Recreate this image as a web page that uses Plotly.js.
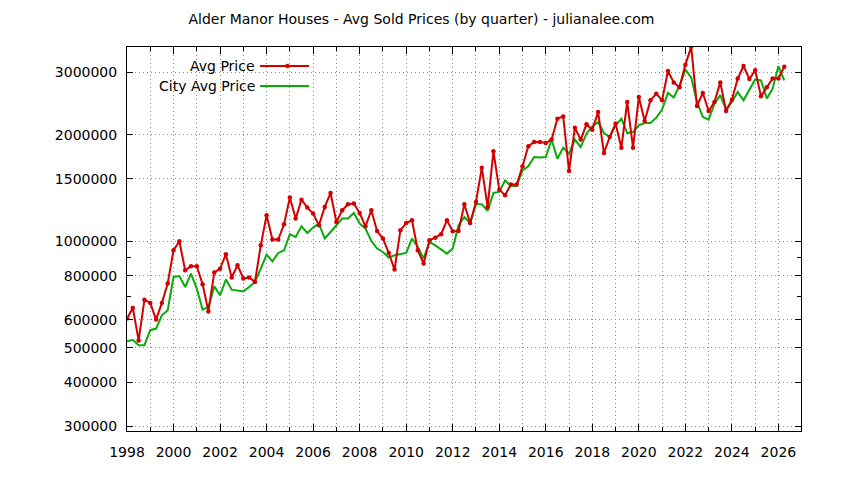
<!DOCTYPE html>
<html>
<head>
<meta charset="utf-8">
<script src="https://cdn.plot.ly/plotly-3.0.1.min.js"></script>
<style>html,body{margin:0;padding:0;background:#fff;}#chart{width:844px;height:480px;}</style>
</head>
<body>
<div id="chart"></div>
<script>
// Years covered (quarterly data, Q1..Q4 per year)
const years = [1998,1999,2000,2001,2002,2003,2004,2005,2006,2007,2008,2009,2010,2011,2012,2013,2014,2015,2016,2017,2018,2019,2020,2021,2022,2023,2024,2025,2026];

// Alder Manor average sold price by quarter
const avgPrice = [
  605000, 648000, 525000, 684000,
  670000, 601000, 670000, 760000,
  943000, 1000000, 828000, 850000,
  850000, 756000, 634000, 816000,
  837000, 919000, 790000, 856000,
  785000, 790000, 768000, 974000,
  1184000, 1011000, 1011000, 1117000,
  1329000, 1159000, 1311000, 1245000,
  1197000, 1110000, 1250000, 1369000,
  1134000, 1223000, 1272000, 1278000,
  1202000, 1102000, 1223000, 1069000,
  1018000, 927000, 832000, 1074000,
  1126000, 1146000, 943000, 865000,
  1007000, 1024000, 1047000, 1146000,
  1067000, 1070000, 1272000, 1126000,
  1291000, 1614000, 1250000, 1795000,
  1399000, 1349000, 1446000, 1446000,
  1628000, 1855000, 1906000, 1906000,
  1895000, 1937000, 2218000, 2252000,
  1579000, 2092000, 1937000, 2139000,
  2066000, 2316000, 1775000, 1970000,
  2149000, 1838000, 2473000, 1838000,
  2555000, 2186000, 2500000, 2610000,
  2500000, 3025000, 2809000, 2720000,
  3153000, 3540000, 2409000, 2622000,
  2333000, 2473000, 2809000, 2333000,
  2511000, 2880000, 3125000, 2870000,
  3040000, 2567000, 2720000, 2880000,
  2880000, 3111000
];

// City average price by quarter
const cityAvgPrice = [
  522000, 527000, 509000, 509000,
  561000, 567000, 618000, 639000,
  793000, 798000, 743000, 810000,
  735000, 641000, 652000, 746000,
  704000, 780000, 730000, 727000,
  722000, 743000, 768000, 837000,
  917000, 878000, 927000, 943000,
  1047000, 1028000, 1102000, 1055000,
  1093000, 1122000, 1018000, 1062000,
  1110000, 1159000, 1159000, 1202000,
  1122000, 1086000, 1002000, 954000,
  933000, 899000, 913000, 919000,
  927000, 1018000, 964000, 894000,
  995000, 974000, 947000, 923000,
  954000, 1110000, 1171000, 1126000,
  1272000, 1272000, 1218000, 1369000,
  1378000, 1486000, 1433000, 1433000,
  1586000, 1628000, 1729000, 1723000,
  1729000, 1937000, 1711000, 1838000,
  1768000, 1937000, 1845000, 2013000,
  2111000, 2171000, 2021000, 1970000,
  2125000, 2218000, 2021000, 2034000,
  2125000, 2157000, 2157000, 2233000,
  2353000, 2622000, 2546000, 2753000,
  3054000, 2898000, 2473000, 2244000,
  2206000, 2447000, 2585000, 2353000,
  2473000, 2640000, 2500000, 2680000,
  2864000, 2846000, 2530000, 2697000,
  3125000, 2846000
];

// Axis tick labels
const yTickVals = [300000, 400000, 500000, 600000, 800000, 1000000, 1500000, 2000000, 3000000];
const yMinorVals = [700000, 900000];
const xTickVals = [1998, 2000, 2002, 2004, 2006, 2008, 2010, 2012, 2014, 2016, 2018, 2020, 2022, 2024, 2026];

const seriesNames = ["Avg Price", "City Avg Price"];
const titleText = "Alder Manor Houses - Avg Sold Prices (by quarter) - julianalee.com";

// quarter positions (decimal years) from the years list
function quarterPositions(n) {
  const xs = [];
  for (let i = 0; i < n; i++) xs.push(years[Math.floor(i / 4)] + (i % 4) / 4);
  return xs;
}

const RED = '#d40000';
const GREEN = '#0aaa0a';
const FONT = 'DejaVu Sans, sans-serif';

const traces = [
  {
    x: quarterPositions(cityAvgPrice.length), y: cityAvgPrice, name: seriesNames[1],
    type: 'scatter', mode: 'lines', line: {color: GREEN, width: 2}, showlegend: false
  },
  {
    x: quarterPositions(avgPrice.length), y: avgPrice, name: seriesNames[0],
    type: 'scatter', mode: 'lines+markers', line: {color: RED, width: 2},
    marker: {color: RED, size: 4.5, symbol: 'circle'}, showlegend: false
  }
];

const gridCol = '#8c8c8c';
const gridDash = '1px,3px';

const layout = {
  width: 844, height: 480,
  margin: {l: 127, r: 43, t: 47, b: 49},
  paper_bgcolor: '#ffffff', plot_bgcolor: '#ffffff',
  font: {family: FONT, size: 14, color: '#000'},
  title: {
    text: titleText, font: {family: FONT, size: 14, color: '#000'},
    xref: 'container', x: 0.4994, xanchor: 'center',
    yref: 'container', y: 0.9594, yanchor: 'middle'
  },
  xaxis: {
    range: [1998, 2026.97],
    tickmode: 'array', tickvals: xTickVals, ticktext: xTickVals.map(String),
    ticks: 'inside', ticklen: 7, tickwidth: 1, tickcolor: '#000',
    showline: true, linecolor: '#000', linewidth: 1, mirror: 'allticks',
    showgrid: true, gridcolor: gridCol, griddash: gridDash, gridwidth: 1,
    zeroline: false, ticklabelstandoff: 8,
    tickfont: {family: FONT, size: 14, color: '#000'},
    minor: {dtick: 1, tick0: 1998, ticks: 'inside', ticklen: 4, tickcolor: '#000',
            showgrid: true, gridcolor: gridCol, griddash: gridDash, gridwidth: 1}
  },
  yaxis: {
    type: 'log', range: [5.4644, 6.5485],
    tickmode: 'array', tickvals: yTickVals, ticktext: yTickVals.map(String),
    ticks: 'inside', ticklen: 6, tickwidth: 1, tickcolor: '#000',
    showline: true, linecolor: '#000', linewidth: 1, mirror: 'allticks',
    showgrid: true, gridcolor: gridCol, griddash: gridDash, gridwidth: 1,
    zeroline: false, ticklabelstandoff: 6,
    tickfont: {family: FONT, size: 14, color: '#000'},
    minor: {tickmode: 'array', tickvals: yMinorVals, ticks: 'inside', ticklen: 4,
            tickcolor: '#000', showgrid: false}
  },
  annotations: [
    {text: seriesNames[0], xref: 'paper', yref: 'paper', x: 0.1933, y: 0.9505,
     xanchor: 'right', yanchor: 'middle', showarrow: false,
     font: {family: FONT, size: 14, color: '#000'}},
    {text: seriesNames[1], xref: 'paper', yref: 'paper', x: 0.1933, y: 0.8984,
     xanchor: 'right', yanchor: 'middle', showarrow: false,
     font: {family: FONT, size: 14, color: '#000'}}
  ],
  shapes: [
    {type: 'line', xref: 'paper', yref: 'paper', x0: 0.1973, x1: 0.2700, y0: 0.9505, y1: 0.9505,
     line: {color: RED, width: 2}},
    {type: 'circle', xref: 'paper', yref: 'paper', x0: 0.2348, x1: 0.2414, y0: 0.9447, y1: 0.9563,
     fillcolor: RED, line: {color: RED, width: 0}},
    {type: 'line', xref: 'paper', yref: 'paper', x0: 0.1973, x1: 0.2700, y0: 0.8984, y1: 0.8984,
     line: {color: GREEN, width: 2}}
  ]
};

Plotly.newPlot('chart', traces, layout, {staticPlot: true, displayModeBar: false});
</script>
</body>
</html>
